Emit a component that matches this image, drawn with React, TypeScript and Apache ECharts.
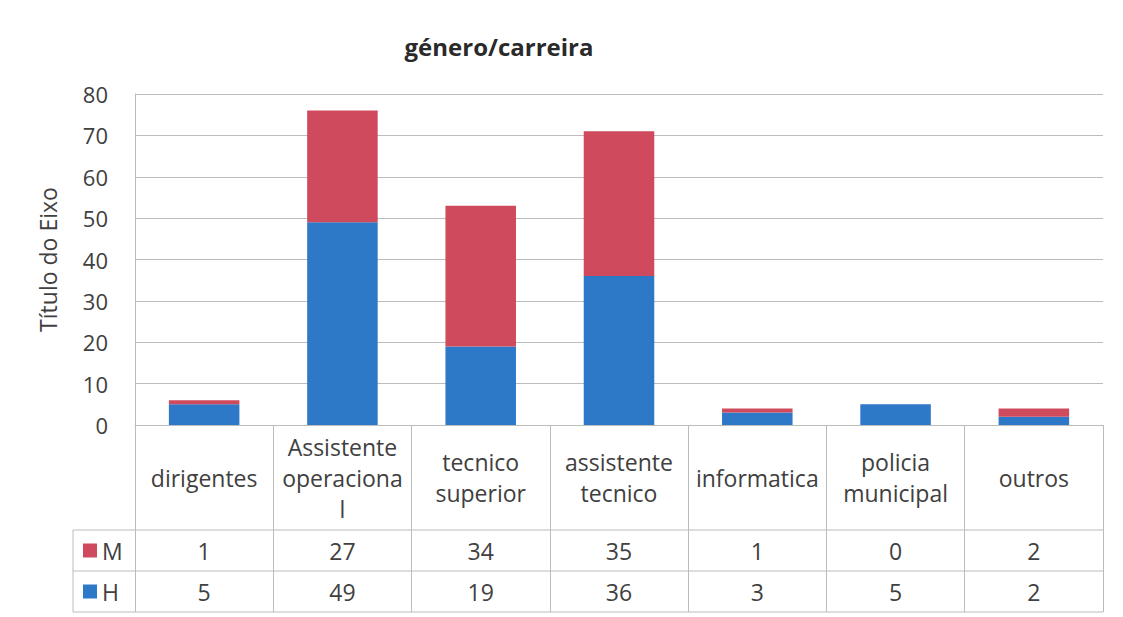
import React, { useEffect, useRef } from "react";
import * as echarts from "echarts";

const title = "género/carreira";
const yAxisName = "Título do Eixo";
const categories = [
  "dirigentes",
  "Assistente\noperaciona\nl",
  "tecnico\nsuperior",
  "assistente\ntecnico",
  "informatica",
  "policia\nmunicipal",
  "outros",
];
const seriesNames = ["M", "H"];
const valuesM = [1, 27, 34, 35, 1, 0, 2];
const valuesH = [5, 49, 19, 36, 3, 5, 2];
const colorM = "#cf4a5c";
const colorH = "#2d79c8";

const W = 1123;
const H = 617;
const L = 135;
const R = 1103;
const T = 94;
const B = 425;
const rowCatBottom = 530;
const rowMBottom = 571;
const rowHBottom = 612;
const tableLeft = 73;
const FONT = "'Open Sans', 'Noto Sans', sans-serif";
const TXT = "#404040";
const LINE = "#bcbcbc";

export default function App() {
  const ref = useRef<HTMLDivElement>(null);
  useEffect(() => {
    if (!ref.current) return;
    const chart = echarts.init(ref.current, undefined, { renderer: "svg" });
    const n = categories.length;
    const cw = (R - L) / n;
    const graphics: any[] = [];
    [rowCatBottom, rowMBottom, rowHBottom].forEach((y) => {
      graphics.push({
        type: "line",
        shape: { x1: tableLeft, y1: y, x2: R, y2: y },
        style: { stroke: LINE, lineWidth: 1 },
      });
    });
    graphics.push({
      type: "line",
      shape: { x1: tableLeft, y1: rowCatBottom, x2: tableLeft, y2: rowHBottom },
      style: { stroke: LINE, lineWidth: 1 },
    });
    const rows = [
      { name: seriesNames[0], vals: valuesM, color: colorM, cy: (rowCatBottom + rowMBottom) / 2 },
      { name: seriesNames[1], vals: valuesH, color: colorH, cy: (rowMBottom + rowHBottom) / 2 },
    ];
    rows.forEach((r) => {
      graphics.push({
        type: "rect",
        shape: { x: 83, y: r.cy - 7, width: 14, height: 14 },
        style: { fill: r.color },
      });
      graphics.push({
        type: "text",
        x: 102,
        y: r.cy,
        style: {
          text: r.name,
          font: `23px ${FONT}`,
          fill: TXT,
          textVerticalAlign: "middle",
          textAlign: "left",
        },
      });
      r.vals.forEach((v, i) => {
        graphics.push({
          type: "text",
          x: L + cw * (i + 0.5),
          y: r.cy,
          style: {
            text: String(v),
            font: `23px ${FONT}`,
            fill: TXT,
            textVerticalAlign: "middle",
            textAlign: "center",
          },
        });
      });
    });

    chart.setOption({
      animation: false,
      backgroundColor: "#ffffff",
      title: {
        text: title,
        left: 494,
        textAlign: "center",
        top: 29,
        textStyle: { fontFamily: FONT, fontSize: 24, fontWeight: "bold", color: "#2a2a2a" },
      },
      grid: { left: L, right: W - R, top: T, bottom: H - B, containLabel: false },
      xAxis: {
        type: "category",
        data: categories,
        axisLine: { show: true, lineStyle: { color: LINE } },
        axisTick: { show: true, length: rowHBottom - B, lineStyle: { color: LINE } },
        axisLabel: {
          interval: 0,
          margin: (rowCatBottom - B) / 2,
          verticalAlign: "middle",
          fontFamily: FONT,
          fontSize: 23,
          lineHeight: 31,
          color: TXT,
        },
      },
      yAxis: {
        type: "value",
        min: 0,
        max: 80,
        interval: 10,
        name: yAxisName,
        nameLocation: "middle",
        nameGap: 76,
        nameTextStyle: { fontFamily: FONT, fontSize: 23, color: TXT },
        axisLine: { show: true, lineStyle: { color: LINE } },
        axisTick: { show: false },
        axisLabel: { fontFamily: FONT, fontSize: 22, color: TXT, margin: 27 },
        splitLine: { show: true, lineStyle: { color: LINE } },
      },
      series: [
        {
          name: seriesNames[1],
          type: "bar",
          stack: "total",
          data: valuesH,
          barWidth: "51%",
          itemStyle: { color: colorH },
        },
        {
          name: seriesNames[0],
          type: "bar",
          stack: "total",
          data: valuesM,
          barWidth: "51%",
          itemStyle: { color: colorM },
        },
      ],
      graphic: graphics,
    });
    return () => chart.dispose();
  }, []);
  return (
    <div
      ref={ref}
      style={{ position: "fixed", left: 0, top: 0, width: W, height: H, background: "#fff" }}
    />
  );
}
